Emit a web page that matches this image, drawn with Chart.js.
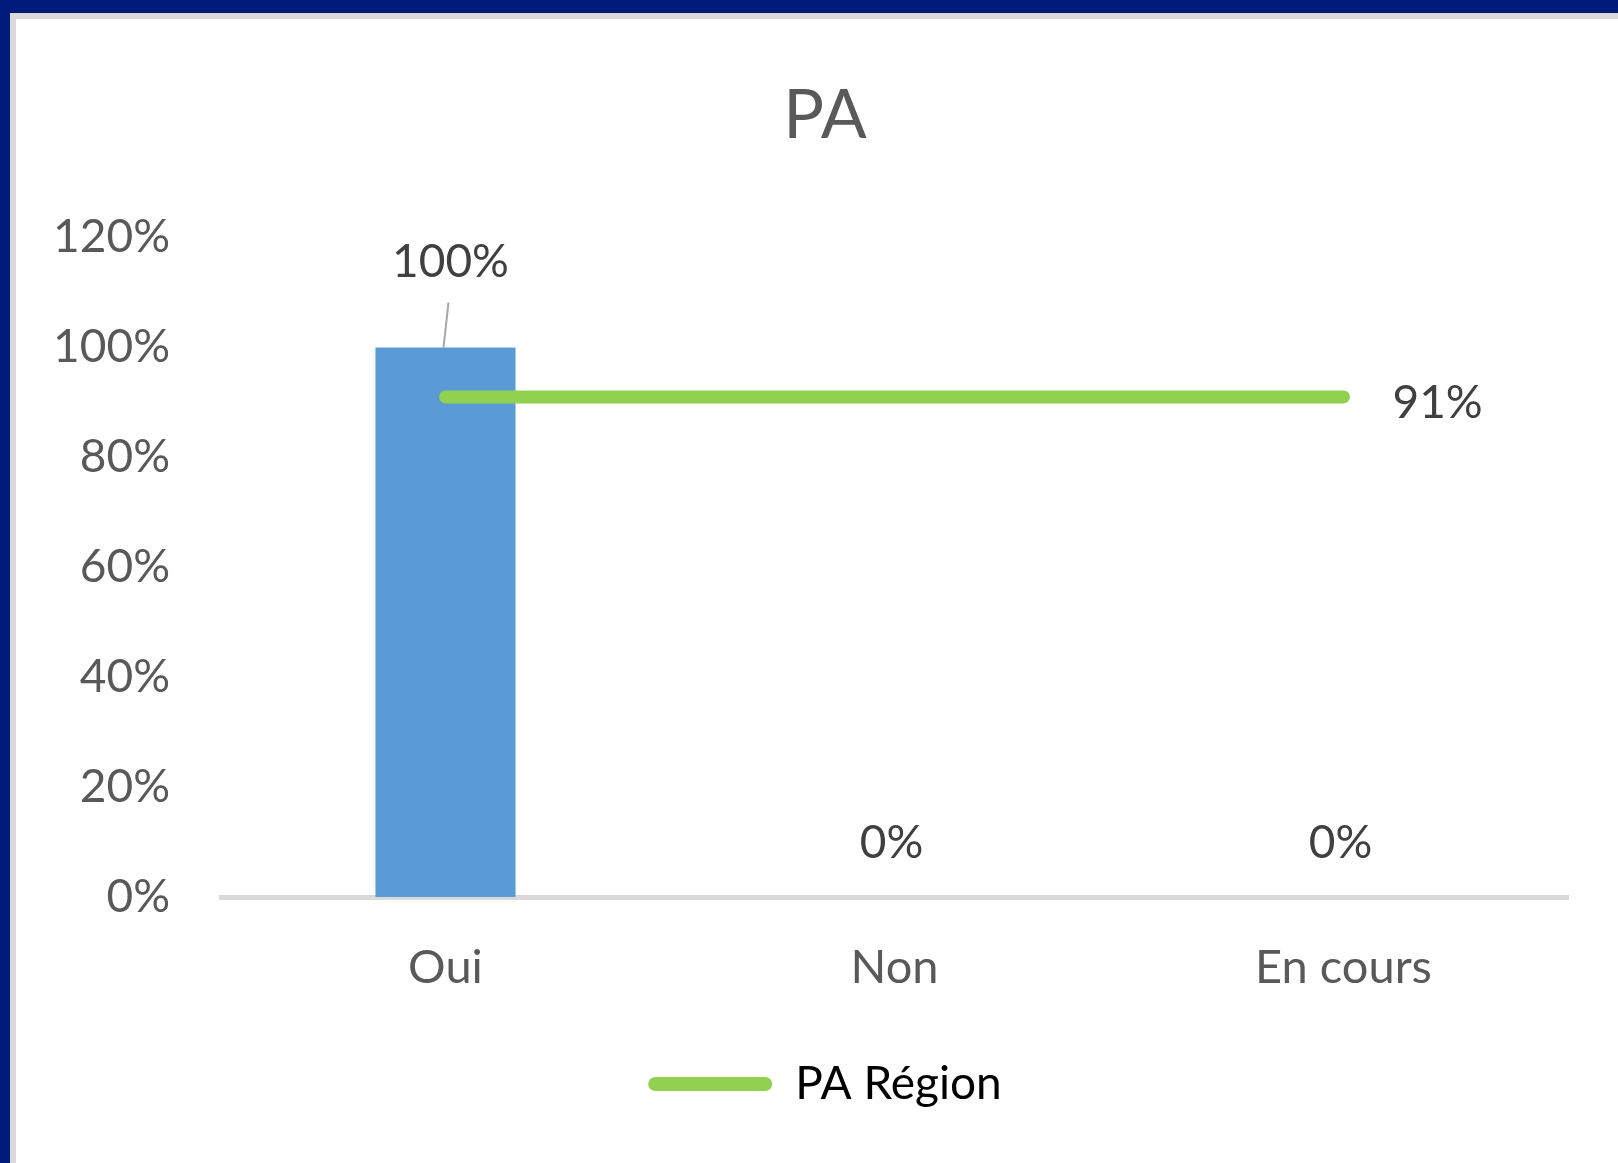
<!DOCTYPE html>
<html lang="fr">
<head>
<meta charset="utf-8">
<title>PA</title>
<script src="https://cdn.jsdelivr.net/npm/chart.js@4.4.1/dist/chart.umd.min.js"></script>
<style>
    html, body { margin: 0; padding: 0; background: #ffffff; overflow: hidden; }
    #cadre {
        position: absolute; left: 0; top: 0;
        width: 1618px; height: 1163px; box-sizing: border-box;
        border-top: 13px solid #001b7a;
        border-left: 10px solid #001b7a;
        overflow: hidden;
    }
    #interieur {
        width: 1640px; height: 100%; box-sizing: border-box;
        border-top: 6px solid #d9d9d9;
        border-left: 6px solid #d9d9d9;
        background: #ffffff;
    }
    canvas { display: block; }
</style>
</head>
<body>
<div id="cadre">
    <div id="interieur">
        <canvas id="graphiquePA" width="1618" height="1144"></canvas>
    </div>
</div>
<script>
// Données
const categories = ['Oui', 'Non', 'En cours'];
const valeursPA = [100, 0, 0];          // barres (%)
const valeursRegion = [91, 91, 91];     // ligne PA Région (%)
const ticksY = [0, 20, 40, 60, 80, 100, 120];

const policeTexte = 'Lato, "Open Sans", sans-serif';

// Étiquettes de données façon Excel
const etiquettes = {
    id: 'etiquettes',
    afterDatasetsDraw(chart) {
        const ctx = chart.ctx;
        ctx.save();
        ctx.font = '46px ' + policeTexte;
        ctx.fillStyle = '#404040';
        ctx.textBaseline = 'middle';

        chart.getDatasetMeta(0).data.forEach((barre, i) => {
            const texte = valeursPA[i] + '%';
            ctx.textAlign = 'center';
            if (valeursPA[i] > 0) {
                // ligne de rappel grise
                ctx.strokeStyle = '#a6a6a6';
                ctx.lineWidth = 2;
                ctx.beginPath();
                ctx.moveTo(barre.x - 2, barre.y);
                ctx.lineTo(barre.x + 3, barre.y - 45);
                ctx.stroke();
                ctx.fillText(texte, barre.x + 5, barre.y - 85);
            } else {
                ctx.fillText(texte, barre.x - 3, barre.y - 54);
            }
        });

        const points = chart.getDatasetMeta(1).data;
        const dernier = points[points.length - 1];
        ctx.textAlign = 'left';
        ctx.fillText(valeursRegion[valeursRegion.length - 1] + '%', dernier.x + 49, dernier.y + 6);
        ctx.restore();
    }
};

const ctx = document.getElementById('graphiquePA').getContext('2d');
new Chart(ctx, {
    type: 'bar',
    data: {
        labels: categories,
        datasets: [{
            label: 'PA',
            data: valeursPA,
            backgroundColor: '#5b9bd5',
            borderWidth: 0,
            categoryPercentage: 1,
            barPercentage: 0.312,
            order: 1
        }, {
            type: 'line',
            label: 'PA Région',
            data: valeursRegion,
            borderColor: '#92d050',
            backgroundColor: '#92d050',
            borderWidth: 13,
            borderCapStyle: 'round',
            pointRadius: 0,
            fill: false,
            order: 0
        }]
    },
    options: {
        responsive: false,
        animation: false,
        layout: {
            padding: { left: 0, right: 0, top: 0, bottom: 46 }
        },
        plugins: {
            title: {
                display: true,
                text: 'PA',
                color: '#595959',
                font: { family: policeTexte, size: 68, weight: 'normal', lineHeight: 1.2 },
                padding: { top: 56, bottom: 81 }
            },
            legend: {
                position: 'bottom',
                labels: {
                    color: '#595959',
                    font: { family: policeTexte, size: 46 },
                    boxWidth: 124,
                    boxHeight: 14,
                    padding: 10,
                    useBorderRadius: true,
                    borderRadius: 7,
                    generateLabels: () => [{
                        text: 'PA Région',
                        fillStyle: '#92d050',
                        strokeStyle: '#92d050',
                        lineWidth: 0,
                        borderRadius: 7,
                        datasetIndex: 1,
                        hidden: false
                    }]
                }
            },
            tooltip: { enabled: false }
        },
        scales: {
            x: {
                grid: { display: false, drawTicks: false },
                border: { display: true, color: '#d9d9d9', width: 5 },
                ticks: {
                    color: '#595959',
                    font: { family: policeTexte, size: 47 },
                    padding: 43
                },
                afterFit: scale => { scale.height = 154; }
            },
            y: {
                min: 0,
                max: 120,
                grid: { display: false, drawTicks: false },
                border: { display: false },
                afterBuildTicks: scale => { scale.ticks = ticksY.map(v => ({ value: v })); },
                ticks: {
                    color: '#595959',
                    font: { family: policeTexte, size: 46 },
                    padding: 51,
                    callback: v => v + '%'
                },
                afterFit: scale => { scale.width = 205; }
            },
            // marge droite vide (aucune série) pour centrer titre et légende comme l'original
            marge: {
                type: 'linear',
                position: 'right',
                grid: { display: false, drawTicks: false },
                border: { display: false },
                ticks: { display: false },
                afterFit: scale => { scale.width = 66; }
            }
        }
    },
    plugins: [etiquettes]
});
</script>
</body>
</html>
